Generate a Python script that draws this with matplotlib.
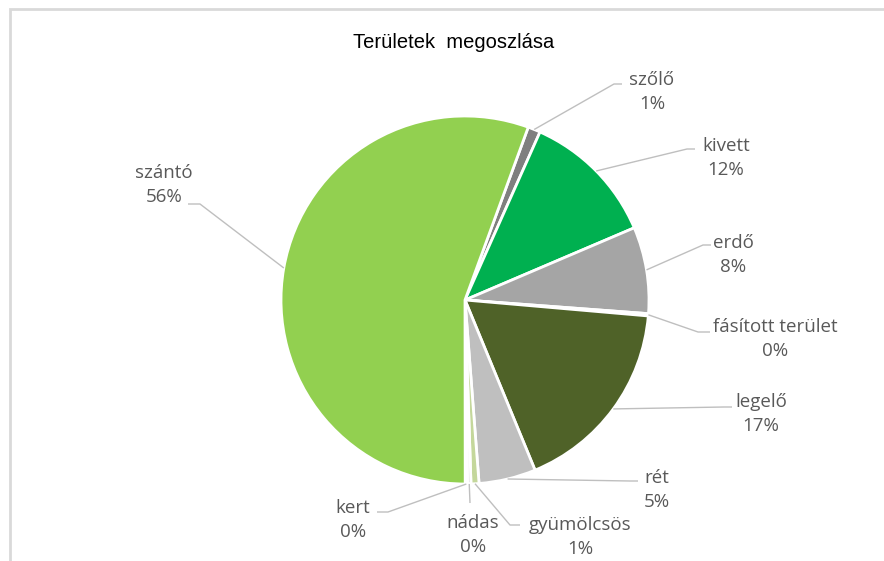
"""
Pie chart: Területek megoszlása (land use breakdown).
Outputs: out.png
"""

import numpy as np
import matplotlib
matplotlib.use("Agg")
import matplotlib.pyplot as plt
from matplotlib.patches import Rectangle

W, H = 884, 561

# Data, clockwise from the first slice.
categories = ["szőlő", "kivett", "erdő", "fásított terület", "legelő",
              "rét", "gyümölcsös", "nádas", "kert", "szántó"]
shares = [1.1, 11.9, 7.6, 0.2, 17.4, 5.0, 0.7, 0.3, 0.2, 55.6]
colors = ["#7f7f7f", "#00b050", "#a5a5a5", "#d9d9d9", "#4f6228",
          "#bfbfbf", "#c4d79b", "#d9d9d9", "#ebf1de", "#92d050"]

# Layout in image pixels (x, y from top-left).
CENTER = (465, 300)
RADIUS = 184
FIRST_SLICE = 20.1  # degrees clockwise from 12 o'clock

label_pos = [(652, 92), (726, 158), (733, 255), (775, 339), (761, 414),
             (657, 490), (580, 537), (473, 535), (353, 520), (164, 185)]
# leader elbow, then end of the short horizontal tick
elbows = [((614, 84), (622, 84)), ((687, 149), (695, 149)),
          ((703, 245), (711, 245)), ((698, 332), (710, 332)),
          ((724, 407), (732, 407)), ((630, 481), (638, 481)),
          ((510, 525), (520, 525)), ((470, 503), (470, 503)),
          ((388, 512), (377, 512)), ((200, 204), (188, 204))]

TEXT = "#595959"
LEADER = "#bfbfbf"


def fy(y):
    return H - y


fig = plt.figure(figsize=(W / 100, H / 100), dpi=100)
ax = fig.add_axes([0, 0, 1, 1])

wedges, _ = ax.pie(shares, colors=colors, startangle=90 - FIRST_SLICE,
                   counterclock=False, radius=RADIUS,
                   center=(CENTER[0], fy(CENTER[1])),
                   wedgeprops=dict(edgecolor="white", linewidth=2))

ax.set_xlim(0, W)
ax.set_ylim(0, H)
ax.set_aspect("equal")
ax.axis("off")

for w, name, val, (lx, ly), (e1, e2) in zip(wedges, categories, shares,
                                            label_pos, elbows):
    mid = np.deg2rad((w.theta1 + w.theta2) / 2)
    sx = w.center[0] + RADIUS * np.cos(mid)
    sy = w.center[1] + RADIUS * np.sin(mid)
    ax.plot([sx, e1[0], e2[0]], [sy, fy(e1[1]), fy(e2[1])],
            color=LEADER, linewidth=1, solid_capstyle="butt")
    ax.text(lx, fy(ly), f"{name}\n{int(val + 0.5)}%", ha="center",
            va="center", fontsize=13.5, color=TEXT, family="Open Sans",
            linespacing=1.4)

ax.text(454, fy(42), "Területek  megoszlása", ha="center", va="center",
        fontsize=14.5, color="black", family="Liberation Sans")

# chart frame, running off the right and bottom edges
fig.patches.append(Rectangle((10, -20), W + 20, fy(9) + 20,
                             transform=None, fill=False,
                             edgecolor="#d9d9d9", linewidth=2))

fig.savefig("out.png", dpi=100)
